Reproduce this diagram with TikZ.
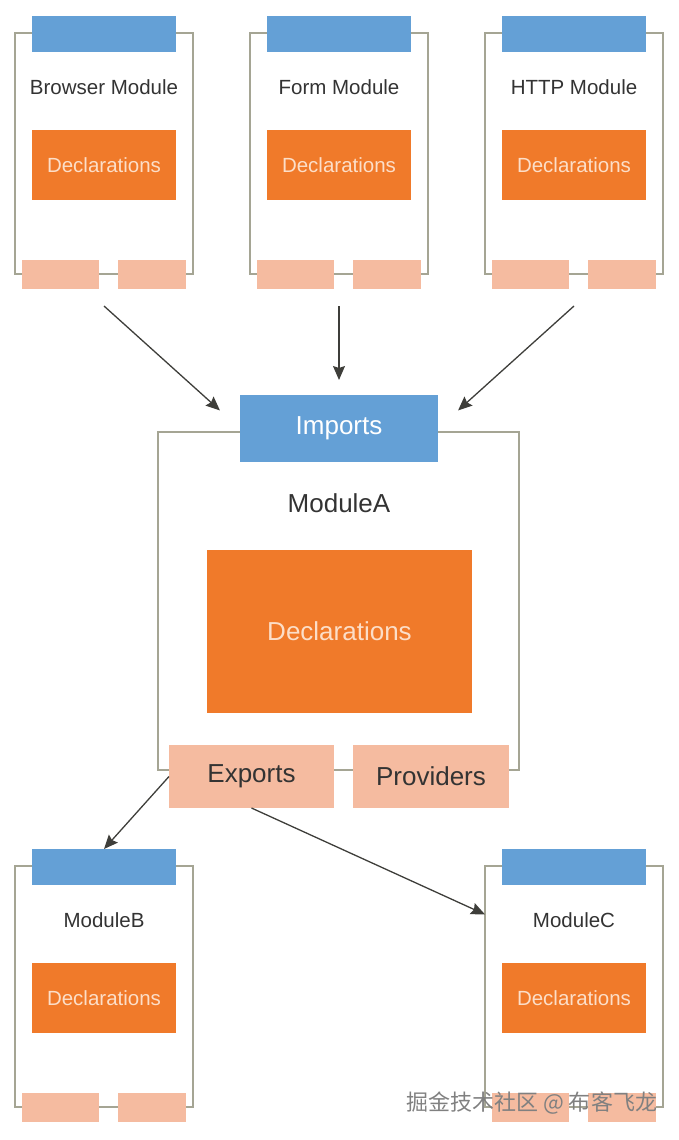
\documentclass[tikz,border=0pt]{standalone}
\usepackage{fontspec}
\setmainfont{Liberation Sans}
\newfontfamily\cjk{Noto Sans CJK SC}
\usetikzlibrary{calc, arrows.meta}
\usepackage{xcolor}
\definecolor{barblue}{RGB}{100,160,214}
\definecolor{declorange}{RGB}{240,122,42}
\definecolor{declink}{RGB}{252,222,200}
\definecolor{slotpink}{RGB}{245,187,160}
\definecolor{framegray}{RGB}{165,165,148}
\definecolor{inktext}{RGB}{51,51,51}
\definecolor{arrowink}{RGB}{62,62,58}

\begin{document}
\begin{tikzpicture}[%
    x=1pt, y=-1pt,
    every node/.style = {inner sep=0pt, outer sep=0pt},
    every edge/.style = {draw, -{Stealth[length=14pt, width=12pt, inset=2pt]}, line width=1.3pt, arrowink},
    modframe/.style = {draw=framegray, line width=1.2pt, minimum width=178pt, minimum height=241pt},
    modbar/.style = {fill=barblue, minimum width=144pt, minimum height=36pt},
    decl/.style = {fill=declorange, text=declink, minimum width=144pt, minimum height=70pt},
    slot/.style = {fill=slotpink, minimum height=29pt},
    small/.style = {font=\fontsize{20.5}{24}\selectfont},
    big/.style = {font=\fontsize{26}{30}\selectfont}
]
\useasboundingbox (0,0) rectangle (679,1140);

% small modules
\foreach \n/\x/\y/\name in {1/0/0/Browser Module, 2/235/0/Form Module, 3/470/0/HTTP Module, 4/0/833/ModuleB, 5/470/833/ModuleC} {
    \node (frame\n) [modframe] at (104+\x, 153.5+\y) {};
    \node (bar\n) [modbar] at (104+\x, 34+\y) {};
    \node (title\n) [small, text=inktext] at (104+\x, 87+\y) {\name};
    \node (decl\n) [decl, small] at (104+\x, 165+\y) {Declarations};
    \node (pl\n) [slot, minimum width=77pt] at (60.5+\x, 274.5+\y) {};
    \node (pr\n) [slot, minimum width=68pt] at (152+\x, 274.5+\y) {};
    \coordinate (out\n) at ([yshift=-32pt]frame\n.south);
}

% ModuleA
\node (frameA) [draw=framegray, line width=1.2pt, minimum width=361pt, minimum height=338pt] at (338.5, 601) {};
\node (imports) [fill=barblue, text=white, big, minimum width=198pt, minimum height=67pt] at (339, 428.5) {Imports};
\node (titleA) [big, text=inktext] at (339, 503) {ModuleA};
\node (declA) [decl, big, minimum width=265pt, minimum height=163pt] at (339.5, 631.5) {Declarations};
\node (exports) [slot, big, text=inktext, minimum width=165pt, minimum height=63pt] at (251.5, 776.5) {Exports};
\node (providers) [slot, big, text=inktext, minimum width=156pt, minimum height=63pt] at (431, 776.5) {Providers};

\path
    (out1) edge [shorten >=27pt] (imports.west)
    (out2) edge [shorten >=15pt] (imports.north)
    (out3) edge [shorten >=27pt] (imports.east)
    (exports.west) edge (bar4.north)
    (exports.south) edge (frame5.141)
    ;

\node (mark) [font=\cjk\fontsize{22}{26}\selectfont, text=gray, anchor=east] at (657, 1103) {掘金技术社区 @ 布客飞龙};
\end{tikzpicture}
\end{document}
